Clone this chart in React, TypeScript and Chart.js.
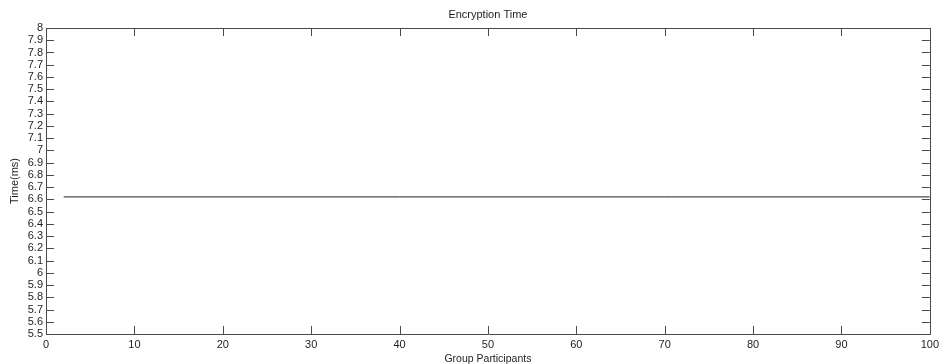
import React, { useEffect, useRef } from "react";
import { Chart, registerables } from "chart.js";

Chart.register(...registerables);

const participants = [2, 10, 20, 30, 40, 50, 60, 70, 80, 90, 100];
const encryptionTime = [6.62, 6.62, 6.62, 6.62, 6.62, 6.62, 6.62, 6.62, 6.62, 6.62, 6.62];

const X_MIN = 0;
const X_MAX = 100;
const X_STEP = 10;
const Y_MIN = 5.5;
const Y_MAX = 8;
const Y_STEP = 0.1;

const TITLE = "Encryption Time";
const X_TITLE = "Group Participants";
const Y_TITLE = "Time(ms)";

const FONT = "'Liberation Sans', Arial, sans-serif";
const AXIS_COLOR = "#4a4a4a";
const TEXT_COLOR = "#1e1e1e";

const boxPlugin = {
  id: "matlabBox",
  afterDraw(chart: any) {
    const { ctx, chartArea } = chart;
    const { left, right, top, bottom } = chartArea;
    const xs = chart.scales.x;
    const ys = chart.scales.y;
    const len = 8;
    ctx.save();
    ctx.strokeStyle = AXIS_COLOR;
    ctx.lineWidth = 1;
    ctx.beginPath();
    ctx.rect(Math.round(left) + 0.5, Math.round(top) + 0.5, Math.round(right - left), Math.round(bottom - top));
    ctx.stroke();
    ctx.beginPath();
    xs.ticks.forEach((t: any) => {
      const px = Math.round(xs.getPixelForValue(t.value)) + 0.5;
      ctx.moveTo(px, bottom);
      ctx.lineTo(px, bottom - len);
      ctx.moveTo(px, top);
      ctx.lineTo(px, top + len);
    });
    ys.ticks.forEach((t: any) => {
      const py = Math.round(ys.getPixelForValue(t.value)) + 0.5;
      ctx.moveTo(left, py);
      ctx.lineTo(left + len, py);
      ctx.moveTo(right, py);
      ctx.lineTo(right - len, py);
    });
    ctx.stroke();
    // title centred over the axes box
    ctx.fillStyle = TEXT_COLOR;
    ctx.font = `11px ${FONT}`;
    ctx.textAlign = "center";
    ctx.textBaseline = "middle";
    ctx.fillText(TITLE, (left + right) / 2, top - 13);
    ctx.restore();
  },
};

export default function App() {
  const canvasRef = useRef<HTMLCanvasElement | null>(null);

  useEffect(() => {
    document.body.style.margin = "0";
    const canvas = canvasRef.current;
    if (!canvas) return;
    const chart = new Chart(canvas, {
      type: "line",
      data: {
        datasets: [
          {
            label: TITLE,
            data: participants.map((x, i) => ({ x, y: encryptionTime[i] })),
            borderColor: "#202020",
            borderWidth: 1,
            pointRadius: 0,
            fill: false,
            tension: 0,
          },
        ],
      },
      options: {
        animation: false,
        responsive: false,
        maintainAspectRatio: false,
        layout: { padding: { left: 0, right: 8, top: 28, bottom: 0 } },
        plugins: {
          legend: { display: false },
          tooltip: { enabled: false },
          title: { display: false },
        },
        scales: {
          x: {
            type: "linear",
            min: X_MIN,
            max: X_MAX,
            grid: { display: false, drawTicks: false },
            border: { display: false },
            ticks: {
              stepSize: X_STEP,
              color: TEXT_COLOR,
              font: { family: FONT, size: 11 },
              padding: 4,
              maxRotation: 0,
              autoSkip: false,
            },
            title: {
              display: true,
              text: X_TITLE,
              color: TEXT_COLOR,
              font: { family: FONT, size: 10.5, lineHeight: 1.2 },
              padding: { top: 0, bottom: -1 },
            },
            afterFit: (s: any) => {
              s.height = 30;
            },
          },
          y: {
            type: "linear",
            min: Y_MIN,
            max: Y_MAX,
            grid: { display: false, drawTicks: false },
            border: { display: false },
            ticks: {
              stepSize: Y_STEP,
              color: TEXT_COLOR,
              font: { family: FONT, size: 11 },
              padding: 3,
              autoSkip: false,
              callback: (v: any) => String(Number(Number(v).toFixed(1))),
            },
            title: {
              display: true,
              text: Y_TITLE,
              color: TEXT_COLOR,
              font: { family: FONT, size: 11, lineHeight: 1.2 },
              padding: { top: 8, bottom: 0 },
            },
            afterFit: (s: any) => {
              s.width = 46;
            },
          },
        },
      },
      plugins: [boxPlugin],
    } as any);
    return () => chart.destroy();
  }, []);

  return (
    <div style={{ width: 943, height: 364, background: "#fff" }}>
      <canvas ref={canvasRef} width={943} height={364} style={{ display: "block", width: 943, height: 364 }} />
    </div>
  );
}
